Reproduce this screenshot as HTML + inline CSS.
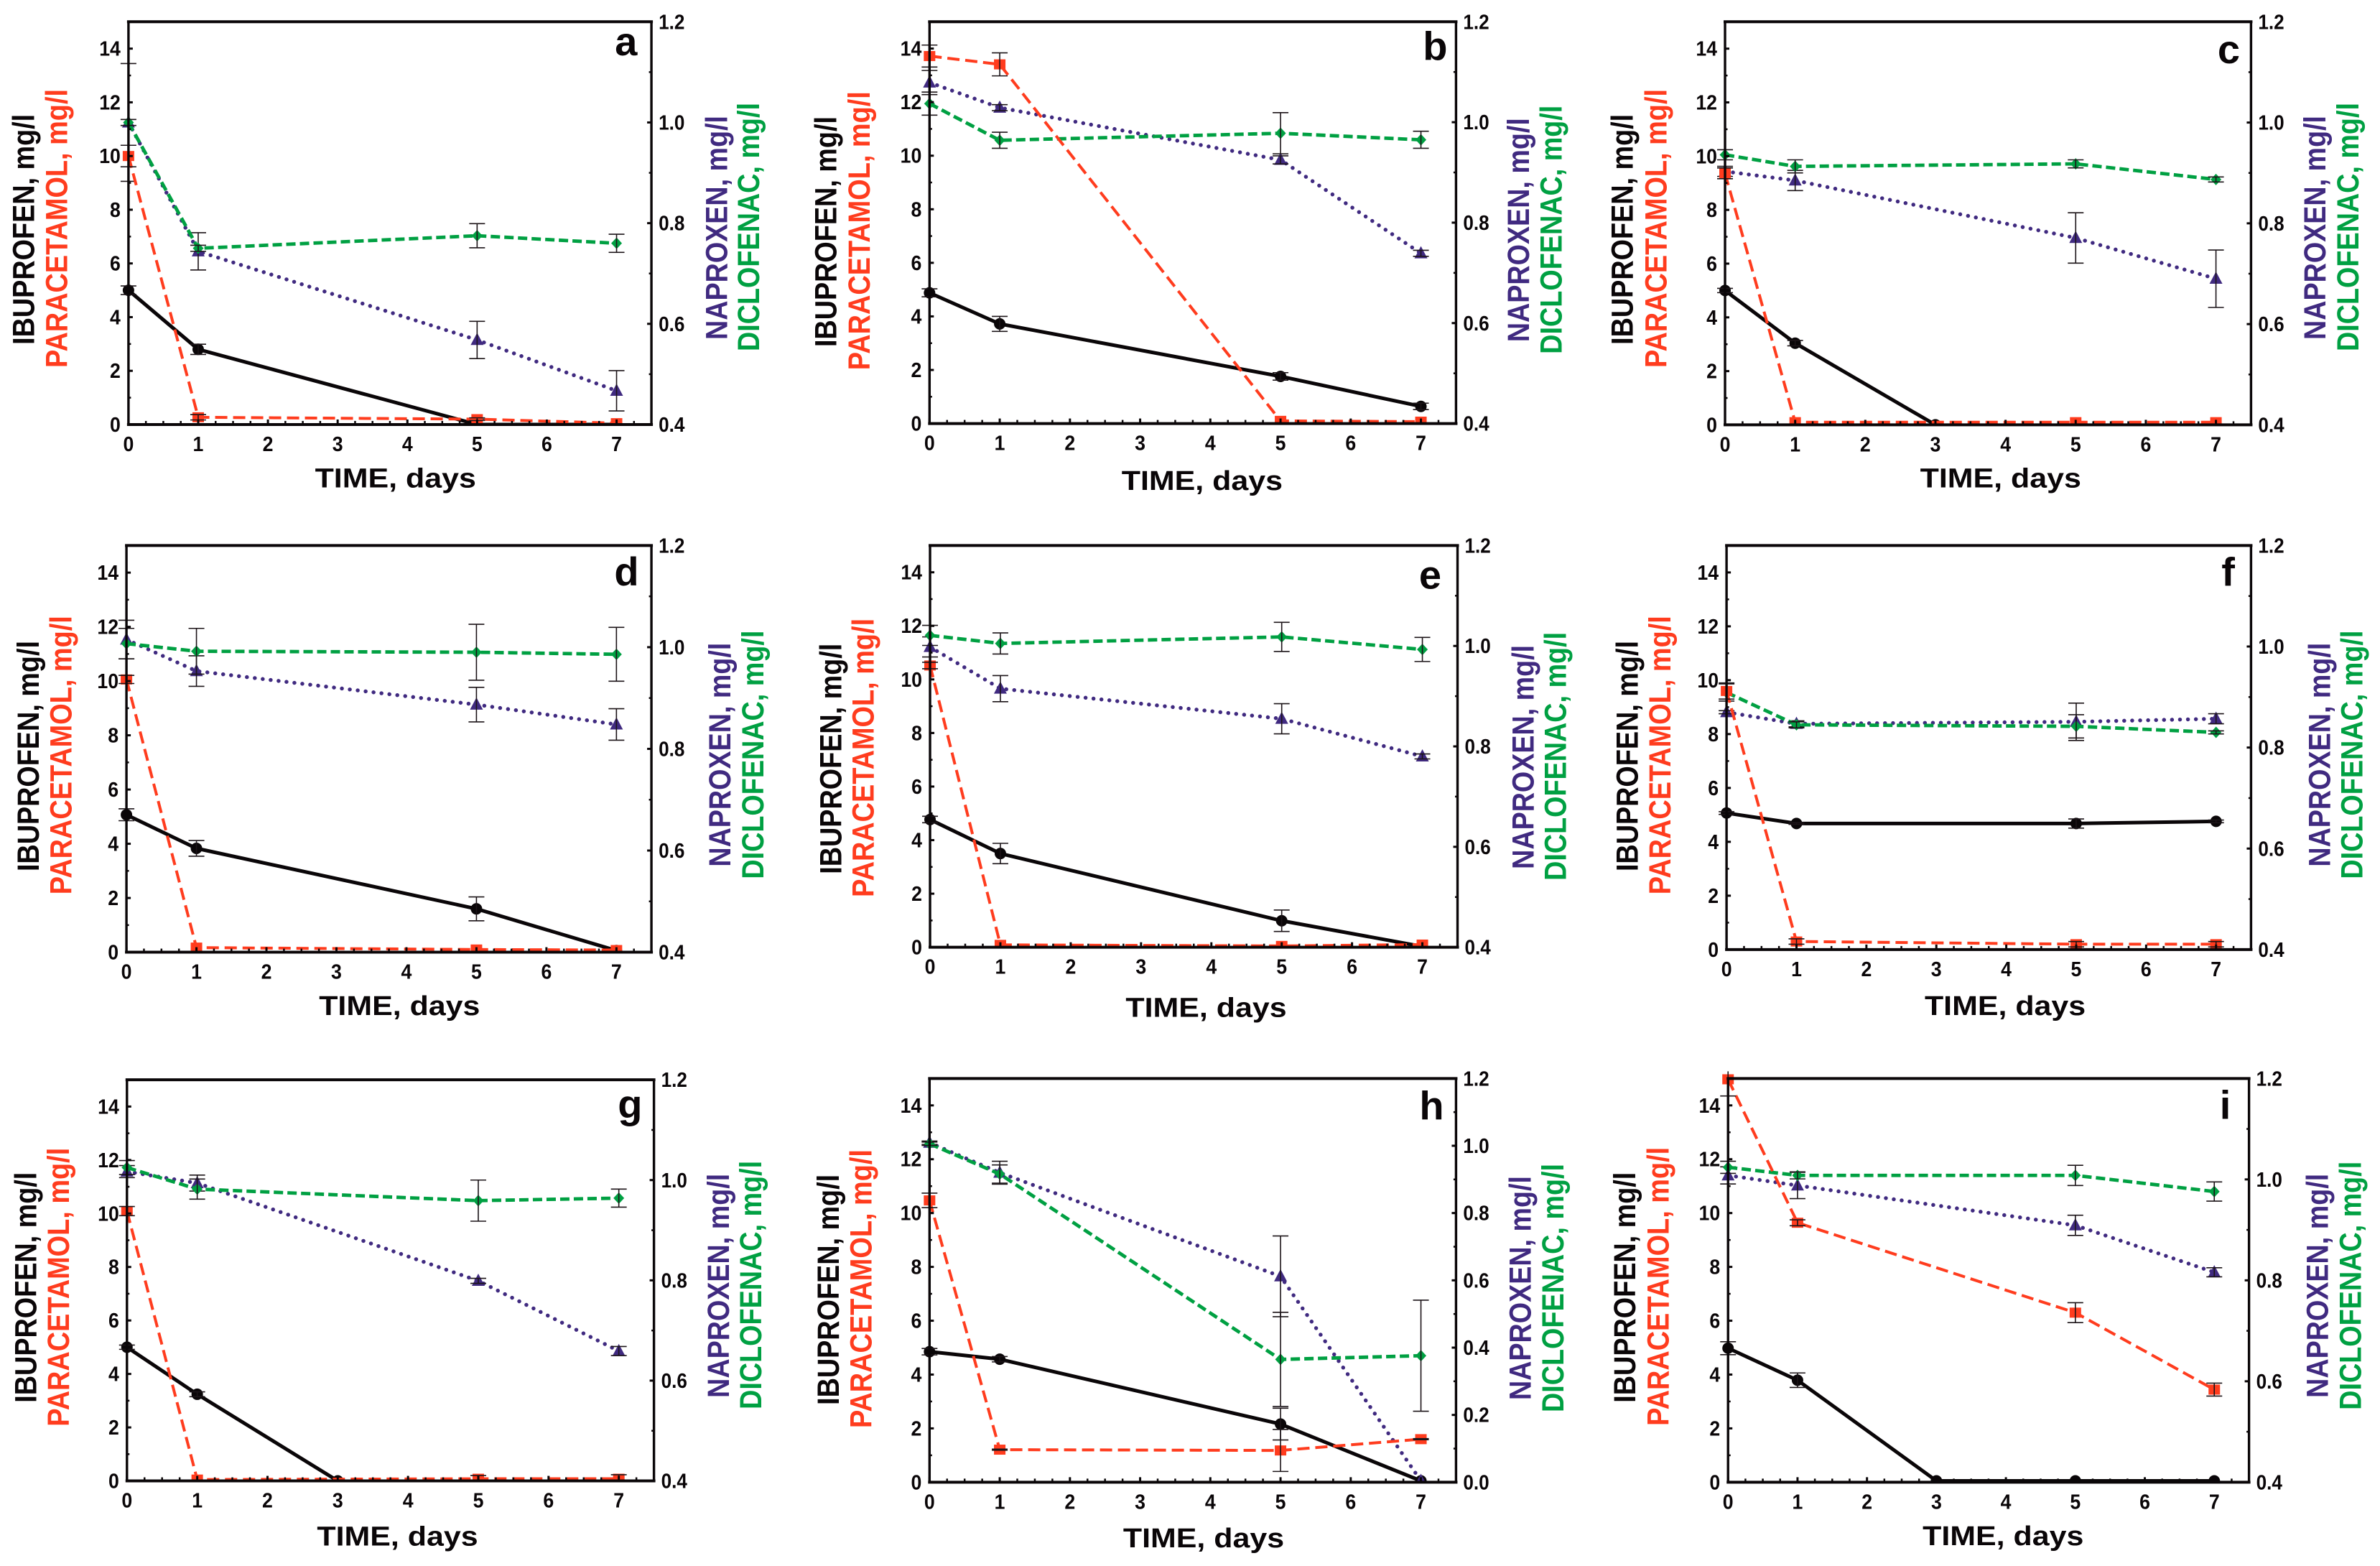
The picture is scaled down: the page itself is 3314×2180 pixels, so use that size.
<!DOCTYPE html>
<html lang="en">
<head>
<meta charset="utf-8">
<title>Pharmaceutical removal over time, panels a to i</title>
<style>
html,body{margin:0;padding:0;background:#fff;overflow:hidden;}
#figure{display:block;width:3314px;height:2180px;background:#fff;}
text{font-family:"Liberation Sans",Arial,sans-serif;font-weight:bold;}
</style>
</head>
<body>
<svg id="figure" xmlns="http://www.w3.org/2000/svg" width="3314" height="2180" viewBox="0 0 3314 2180"></svg>
<script>
// Shared axis values
const xTickLabels = [0, 1, 2, 3, 4, 5, 6, 7];
const leftTickLabels = [0, 2, 4, 6, 8, 10, 12, 14];
const rightTickLabels = [0.4, 0.6, 0.8, 1.0, 1.2];
const rightTickLabelsH = [0.0, 0.2, 0.4, 0.6, 0.8, 1.0, 1.2];
const seriesDays = [0, 1, 5, 7];
const shortIbuDays = [0, 1, 3];
const longIbuDays = [0, 1, 3, 5, 7];

// Panel a
const aIbu = [5.0, 2.8, 0, 0];
const aIbuErr = [0.16, 0.19, 0.2, 0];
const aPar = [10, 0.27, 0.2, 0.05];
const aParErr = [0.4, 0.1, 0.05, 0];
const aNap = [1.0, 0.744, 0.568, 0.467];
const aNapErr = [0.117, 0.037, 0.037, 0.04];
const aDic = [1.0, 0.75, 0.775, 0.76];
const aDicErr = [0.006, 0.006, 0.024, 0.018];
// Panel b
const bIbu = [4.88, 3.72, 1.76, 0.64];
const bIbuErr = [0.15, 0.28, 0.14, 0.12];
const bPar = [13.72, 13.41, 0.1, 0.07];
const bParErr = [0.41, 0.43, 0, 0];
const bNap = [1.079, 1.029, 0.925, 0.739];
const bNapErr = [0.024, 0.006, 0.008, 0.006];
const bDic = [1.037, 0.964, 0.978, 0.965];
const bDicErr = [0.023, 0.016, 0.041, 0.017];
// Panel c
const cIbu = [5.0, 3.04, 0];
const cIbuErr = [0.08, 0.1, 0];
const cPar = [9.36, 0.1, 0.1, 0.1];
const cParErr = [0.2, 0, 0, 0];
const cNap = [0.903, 0.885, 0.771, 0.69];
const cNapErr = [0.01, 0.02, 0.05, 0.057];
const cDic = [0.936, 0.913, 0.918, 0.887];
const cDicErr = [0.01, 0.013, 0.008, 0.005];
// Panel d
const dIbu = [5.07, 3.83, 1.6, 0.06];
const dIbuErr = [0.22, 0.29, 0.44, 0];
const dPar = [10.06, 0.17, 0.1, 0.08];
const dParErr = [0.15, 0, 0, 0];
const dNap = [1.015, 0.953, 0.887, 0.848];
const dNapErr = [0.038, 0.03, 0.034, 0.031];
const dDic = [1.007, 0.992, 0.99, 0.986];
const dDicErr = [0.03, 0.045, 0.055, 0.053];
// Panel e
const eIbu = [4.77, 3.5, 0.99, 0.03];
const eIbuErr = [0.12, 0.38, 0.4, 0];
const ePar = [10.52, 0.09, 0.05, 0.1];
const eParErr = [0.12, 0, 0, 0];
const eNap = [0.998, 0.915, 0.855, 0.78];
const eNapErr = [0.02, 0.026, 0.03, 0.005];
const eDic = [1.021, 1.005, 1.018, 0.993];
const eDicErr = [0.02, 0.021, 0.029, 0.024];
// Panel f
const fIbu = [5.07, 4.68, 4.68, 4.76];
const fIbuErr = [0.05, 0.03, 0.17, 0.05];
const fPar = [9.6, 0.3, 0.2, 0.2];
const fParErr = [0.3, 0.1, 0.1, 0.1];
const fNap = [0.87, 0.847, 0.851, 0.857];
const fNapErr = [0.003, 0.006, 0.037, 0.01];
const fDic = [0.909, 0.845, 0.842, 0.83];
const fDicErr = [0.017, 0.006, 0.023, 0.003];
// Panel g
const gIbu = [5.0, 3.24, 0];
const gIbuErr = [0.08, 0.09, 0];
const gPar = [10.09, 0.05, 0.08, 0.08];
const gParErr = [0.17, 0, 0.12, 0.15];
const gNap = [1.017, 0.994, 0.799, 0.659];
const gNapErr = [0.012, 0.016, 0.005, 0.009];
const gDic = [1.025, 0.982, 0.959, 0.964];
const gDicErr = [0.014, 0.02, 0.041, 0.018];
// Panel h
const hIbu = [4.85, 4.57, 2.16, 0.05];
const hIbuErr = [0.12, 0.1, 0.59, 0];
const hPar = [10.47, 1.21, 1.18, 1.6];
const hParErr = [0.27, 0.02, 0.78, 0.02];
const hNap = [1.009, 0.92, 0.612, 0.004];
const hNapErr = [0.005, 0.034, 0.12, 0];
const hDic = [1.006, 0.916, 0.365, 0.376];
const hDicErr = [0.005, 0.027, 0.14, 0.165];
// Panel i
const iIbu = [4.98, 3.79, 0.05, 0.05, 0.05];
const iIbuErr = [0.24, 0.27, 0, 0, 0];
const iPar = [14.97, 9.64, 6.3, 3.44];
const iParErr = [0.62, 0.11, 0.37, 0.24];
const iNap = [1.008, 0.988, 0.909, 0.816];
const iNapErr = [0.017, 0.026, 0.02, 0.009];
const iDic = [1.024, 1.008, 1.008, 0.976];
const iDicErr = [0.012, 0.007, 0.02, 0.019];

const panels = [
  {letter:'a',ibuDays:seriesDays,ibu:aIbu,ibuErr:aIbuErr,par:aPar,parErr:aParErr,nap:aNap,napErr:aNapErr,dic:aDic,dicErr:aDicErr,rMin:0.4,rTicks:rightTickLabels},
  {letter:'b',ibuDays:seriesDays,ibu:bIbu,ibuErr:bIbuErr,par:bPar,parErr:bParErr,nap:bNap,napErr:bNapErr,dic:bDic,dicErr:bDicErr,rMin:0.4,rTicks:rightTickLabels},
  {letter:'c',ibuDays:shortIbuDays,ibu:cIbu,ibuErr:cIbuErr,par:cPar,parErr:cParErr,nap:cNap,napErr:cNapErr,dic:cDic,dicErr:cDicErr,rMin:0.4,rTicks:rightTickLabels},
  {letter:'d',ibuDays:seriesDays,ibu:dIbu,ibuErr:dIbuErr,par:dPar,parErr:dParErr,nap:dNap,napErr:dNapErr,dic:dDic,dicErr:dDicErr,rMin:0.4,rTicks:rightTickLabels},
  {letter:'e',ibuDays:seriesDays,ibu:eIbu,ibuErr:eIbuErr,par:ePar,parErr:eParErr,nap:eNap,napErr:eNapErr,dic:eDic,dicErr:eDicErr,rMin:0.4,rTicks:rightTickLabels},
  {letter:'f',ibuDays:seriesDays,ibu:fIbu,ibuErr:fIbuErr,par:fPar,parErr:fParErr,nap:fNap,napErr:fNapErr,dic:fDic,dicErr:fDicErr,rMin:0.4,rTicks:rightTickLabels},
  {letter:'g',ibuDays:shortIbuDays,ibu:gIbu,ibuErr:gIbuErr,par:gPar,parErr:gParErr,nap:gNap,napErr:gNapErr,dic:gDic,dicErr:gDicErr,rMin:0.4,rTicks:rightTickLabels},
  {letter:'h',ibuDays:seriesDays,ibu:hIbu,ibuErr:hIbuErr,par:hPar,parErr:hParErr,nap:hNap,napErr:hNapErr,dic:hDic,dicErr:hDicErr,rMin:0,rTicks:rightTickLabelsH},
  {letter:'i',ibuDays:longIbuDays,ibu:iIbu,ibuErr:iIbuErr,par:iPar,parErr:iParErr,nap:iNap,napErr:iNapErr,dic:iDic,dicErr:iDicErr,rMin:0.4,rTicks:rightTickLabels}
];

// Page layout (frame and label placement, measured per panel)
const layoutX = 1100 / 1568;
const layoutY = 720 / 1568;
const frames = {
  a:{ox:0,oy:0,L:255,R:1293,T:66,B:1287,tx:785,ty:1478,ib:68,ibB:1045,pa:133,paB:1115,na:1443,naB:1030,di:1507,diB:1065,lx:1265,ly:168},
  b:{ox:1100,oy:0,L:277,R:1322,T:66,B:1284,tx:818,ty:1485,ib:92,ibB:1052,pa:158,paB:1122,na:1467,naB:1037,di:1532,diB:1073,lx:1305,ly:182},
  c:{ox:2214,oy:0,L:268,R:1312,T:66,B:1288,tx:815,ty:1478,ib:85,ibB:1045,pa:152,paB:1115,na:1460,naB:1030,di:1525,diB:1065,lx:1290,ly:192},
  d:{ox:0,oy:730,L:251,R:1293,T:64,B:1297,tx:793,ty:1487,ib:77,ibB:1052,pa:142,paB:1122,na:1450,naB:1038,di:1515,diB:1075,lx:1268,ly:185},
  e:{ox:1100,oy:730,L:278,R:1325,T:64,B:1282,tx:826,ty:1493,ib:102,ibB:1060,pa:166,paB:1130,na:1476,naB:1045,di:1540,diB:1080,lx:1293,ly:195},
  f:{ox:2214,oy:730,L:271,R:1312,T:64,B:1289,tx:824,ty:1487,ib:95,ibB:1052,pa:160,paB:1122,na:1469,naB:1038,di:1533,diB:1075,lx:1280,ly:186},
  g:{ox:0,oy:1460,L:252,R:1298,T:94,B:1310,tx:789,ty:1506,ib:72,ibB:1073,pa:137,paB:1145,na:1447,naB:1058,di:1511,diB:1093,lx:1275,ly:210},
  h:{ox:1100,oy:1460,L:277,R:1322,T:90,B:1314,tx:821,ty:1511,ib:97,ibB:1080,pa:162,paB:1150,na:1470,naB:1065,di:1535,diB:1102,lx:1298,ly:215},
  i:{ox:2214,oy:1460,L:274,R:1308,T:90,B:1314,tx:820,ty:1505,ib:90,ibB:1073,pa:156,paB:1143,na:1465,naB:1058,di:1530,diB:1095,lx:1272,ly:212}
};

const SVG_NS = 'http://www.w3.org/2000/svg';
const XMAX = 7.5, LEFT_MAX = 15, RIGHT_MAX = 1.2;
const COL_IBU = '#0a0608', COL_PAR = '#ff3c1e', COL_NAP = '#402a80', COL_DIC = '#00a042', COL_ERR = '#1c1418';
const root = document.getElementById('figure');

function mk(tag, parent, attrs) {
  const el = document.createElementNS(SVG_NS, tag);
  for (const k in attrs) el.setAttribute(k, attrs[k]);
  parent.appendChild(el);
  return el;
}
function seg(parent, x1, y1, x2, y2, color, width) {
  return mk('line', parent, {x1, y1, x2, y2, stroke: color, 'stroke-width': width});
}
function stretchedText(parent, str, x, y, size, sx, anchor, fill) {
  const el = mk('text', parent, {transform:`translate(${x},${y}) scale(${sx},1)`, 'font-size':size, 'text-anchor':anchor, fill});
  el.textContent = str;
  return el;
}
function sideTitle(parent, str, x, yBottom, length, fill) {
  const el = mk('text', parent, {transform:`translate(${x},${yBottom}) rotate(-90)`, 'font-size':43, textLength:length, lengthAdjust:'spacingAndGlyphs', fill});
  el.textContent = str;
  return el;
}

panels.forEach(function (p) {
  const f = frames[p.letter];
  const L = f.ox + f.L * layoutX, R = f.ox + f.R * layoutX;
  const T = f.oy + f.T * layoutY, B = f.oy + f.B * layoutY;
  const sx = d => L + d / XMAX * (R - L);
  const syL = v => B - v / LEFT_MAX * (B - T);
  const syR = v => B - (v - p.rMin) / (RIGHT_MAX - p.rMin) * (B - T);

  const g = mk('g', root, {});
  
  

  // Clip marks to the axis floor so that markers at zero sit on the axis
  const clipId = 'clip-' + p.letter;
  const clip = mk('clipPath', g, {id: clipId});
  
  
  mk('rect', clip, {x: L - 40, y: T - 10, width: R - L + 80, height: B - T + 10});

  const marks = mk('g', g, {'clip-path': `url(#${clipId})`});
  
  

  function drawErr(parent, days, vals, errs, sy) {
    days.forEach(function (d, i) {
      if (!errs[i]) return;
      const x = sx(d), hi = sy(vals[i] + errs[i]), lo = sy(vals[i] - errs[i]);
      const e = mk('g', parent, {});
      
      
      seg(e, x, hi, x, lo, COL_ERR, 1.6);
      seg(e, x - 11, hi, x + 11, hi, COL_ERR, 1.6);
      seg(e, x - 11, lo, x + 11, lo, COL_ERR, 1.6);
    });
  }
  function polyline(parent, days, vals, sy, color, width, dash, cap) {
    const pts = days.map((d, i) => sx(d) + ',' + sy(vals[i])).join(' ');
    const attrs = {points: pts, fill: 'none', stroke: color, 'stroke-width': width, 'stroke-linejoin': 'round'};
    if (dash) attrs['stroke-dasharray'] = dash;
    if (cap) attrs['stroke-linecap'] = cap;
    return mk('polyline', parent, attrs);
  }

  // Ibuprofen: solid black, circles
  const gi = mk('g', marks, {});
  
  
  const li = polyline(gi, p.ibuDays, p.ibu, syL, COL_IBU, 5);
  
  
  p.ibuDays.forEach(function (d, i) {
    const m = mk('circle', gi, {cx: sx(d), cy: syL(p.ibu[i]), r: 8, fill: COL_IBU});
    
    
  });
  drawErr(gi, p.ibuDays, p.ibu, p.ibuErr, syL);

  // Naproxen: dotted purple, triangles
  const gn = mk('g', marks, {});
  
  
  const ln = polyline(gn, seriesDays, p.nap, syR, COL_NAP, 5.4, '0.1 11', 'round');
  
  
  seriesDays.forEach(function (d, i) {
    const x = sx(d), y = syR(p.nap[i]);
    const m = mk('polygon', gn, {points: `${x},${y - 10} ${x + 9},${y + 7} ${x - 9},${y + 7}`, fill: COL_NAP});
    
    
  });
  drawErr(gn, seriesDays, p.nap, p.napErr, syR);

  // Diclofenac: short dashed green, diamonds
  const gd = mk('g', marks, {});
  
  
  const ld = polyline(gd, seriesDays, p.dic, syR, COL_DIC, 4.8, '13 6');
  
  
  seriesDays.forEach(function (d, i) {
    const x = sx(d), y = syR(p.dic[i]);
    const m = mk('polygon', gd, {points: `${x},${y - 8} ${x + 7.5},${y} ${x},${y + 8} ${x - 7.5},${y}`, fill: COL_DIC});
    
    
  });
  drawErr(gd, seriesDays, p.dic, p.dicErr, syR);

  // Paracetamol: long dashed red, squares
  const gp = mk('g', marks, {});
  
  
  const lp = polyline(gp, seriesDays, p.par, syL, COL_PAR, 4, '17 8');
  
  
  seriesDays.forEach(function (d, i) {
    const m = mk('rect', gp, {x: sx(d) - 8, y: syL(p.par[i]) - 7, width: 16, height: 14, fill: COL_PAR});
    
    
  });
  drawErr(gp, seriesDays, p.par, p.parErr, syL);

  // Axes
  const ax = mk('g', g, {});
  
  
  seg(ax, L - 2, T, R + 2, T, '#0a0608', 4);
  seg(ax, L - 2, B, R + 2, B, '#0a0608', 4);
  seg(ax, L, T, L, B, '#0a0608', 3.4);
  seg(ax, R, T, R, B, '#0a0608', 3.4);

  // X ticks and labels
  for (let q = 0; q <= XMAX * 4; q++) {
    const d = q / 4, major = q % 4 === 0;
    const t = seg(ax, sx(d), B, sx(d), B - (major ? 7 : 5), '#0a0608', major ? 3 : 2.5);
    
    
  }
  xTickLabels.forEach(function (d) {
    const t = stretchedText(g, String(d), sx(d), B + 37, 29, 0.92, 'middle', '#0a0608');
    
    
  });

  // Left ticks and labels
  for (let v = 1; v < LEFT_MAX; v++) {
    const major = v % 2 === 0;
    const t = seg(ax, L, syL(v), L + (major ? 6 : 3.5), syL(v), '#0a0608', major ? 3 : 2.5);
    
    
  }
  leftTickLabels.forEach(function (v) {
    const t = stretchedText(g, String(v), L - 11, syL(v) + 10, 29, 0.92, 'end', '#0a0608');
    
    
  });

  // Right ticks and labels
  const rightMinorCount = Math.round((RIGHT_MAX - p.rMin) / 0.1);
  for (let k = 1; k < rightMinorCount; k++) {
    const v = p.rMin + k * 0.1, major = k % 2 === 0;
    const t = seg(ax, R, syR(v), R - (major ? 6 : 3.5), syR(v), '#0a0608', major ? 3 : 2.5);
    
    
  }
  p.rTicks.forEach(function (v) {
    const t = stretchedText(g, v.toFixed(1), R + 10, syR(v) + 10, 29, 0.9, 'start', '#0a0608');
    
    
  });

  // Axis titles
  const xt = stretchedText(g, 'TIME, days', f.ox + f.tx * layoutX, f.oy + f.ty * layoutY, 38, 1.13, 'middle', '#0a0608');
  
  

  const t1 = sideTitle(g, 'IBUPROFEN, mg/l', f.ox + f.ib * layoutX, f.oy + f.ibB * layoutY, 321, '#0a0608');
  
  
  const t2 = sideTitle(g, 'PARACETAMOL, mg/l', f.ox + f.pa * layoutX, f.oy + f.paB * layoutY, 388, COL_PAR);
  
  
  const t3 = sideTitle(g, 'NAPROXEN, mg/l', f.ox + f.na * layoutX, f.oy + f.naB * layoutY, 312, COL_NAP);
  
  
  const t4 = sideTitle(g, 'DICLOFENAC, mg/l', f.ox + f.di * layoutX, f.oy + f.diB * layoutY, 346, COL_DIC);
  
  

  // Panel letter
  const pl = stretchedText(g, p.letter, f.ox + f.lx * layoutX, f.oy + f.ly * layoutY, 56, 1, 'end', '#0a0608');
  
  
});
</script>
</body>
</html>
